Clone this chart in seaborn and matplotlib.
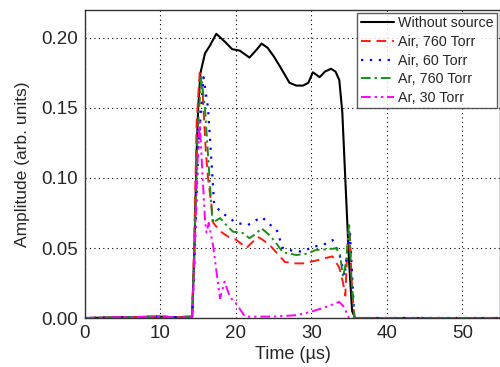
import matplotlib
matplotlib.use("Agg")
import matplotlib.pyplot as plt
import seaborn as sns
import numpy as np

# ---- data ----
labels = ["Without source", "Air, 760 Torr", "Air, 60 Torr", "Ar, 760 Torr", "Ar, 30 Torr"]

t_ws = [0, 10, 12, 14.2, 14.5, 14.8, 15.0, 15.3, 15.9, 16.5, 17.4, 18.0, 18.6, 19.5, 20.5, 21.8,
        22.8, 23.4, 24.2, 25.0, 25.8, 27.1, 28.0, 28.9, 29.6, 30.2, 31.1, 31.8, 32.6, 33.2, 33.7,
        34.1, 34.5, 35.0, 35.4, 35.8, 40, 50, 55]
v_ws = [0, 0.001, 0.0005, 0.001, 0.05, 0.12, 0.15, 0.175, 0.189, 0.194, 0.203, 0.200, 0.197, 0.192,
        0.191, 0.186, 0.192, 0.196, 0.193, 0.187, 0.180, 0.168, 0.166, 0.166, 0.168, 0.1755, 0.172,
        0.176, 0.178, 0.176, 0.170, 0.147, 0.099, 0.040, 0.005, 0, 0, 0, 0]

t_air760 = [0, 10, 12, 14.2, 14.5, 14.8, 15.2, 15.6, 16.0, 16.3, 16.75, 17.0, 17.9, 19.0, 20.0, 21.4,
            22.9, 23.5, 24.5, 25.5, 26.5, 28.0, 28.9, 30.6, 32.0, 32.8, 33.7, 34.2, 34.5, 34.8, 35.1,
            35.4, 35.7, 40, 50, 55]
v_air760 = [0, 0.001, 0.0005, 0.001, 0.06, 0.14, 0.175, 0.16, 0.12, 0.10, 0.081, 0.068, 0.062, 0.058,
            0.056, 0.050, 0.058, 0.056, 0.052, 0.046, 0.040, 0.039, 0.039, 0.041, 0.043, 0.044, 0.036,
            0.025, 0.016, 0.052, 0.060, 0.02, 0.0, 0, 0, 0]

t_air60 = [0, 10, 12, 14.2, 14.5, 15.0, 15.7, 16.3, 16.9, 17.1, 17.9, 19.0, 20.0, 21.6, 22.7, 23.5,
           24.2, 25.4, 26.2, 27.5, 28.9, 30.2, 31.5, 32.8, 33.7, 34.4, 34.7, 35.1, 35.4, 35.7, 40, 50, 55]
v_air60 = [0, 0.001, 0.0005, 0.001, 0.04, 0.12, 0.172, 0.15, 0.10, 0.082, 0.076, 0.072, 0.068, 0.0664,
           0.070, 0.072, 0.068, 0.063, 0.050, 0.048, 0.0474, 0.051, 0.052, 0.0557, 0.046, 0.030, 0.045,
           0.063, 0.030, 0.0, 0, 0, 0]

t_ar760 = [0, 10, 12, 14.2, 14.5, 14.9, 15.4, 15.9, 16.5, 16.9, 17.9, 18.8, 19.6, 20.9, 21.8, 22.6,
           23.4, 24.5, 25.4, 26.2, 28.0, 29.5, 30.6, 32.0, 33.3, 33.8, 34.2, 34.6, 35.0, 35.3, 35.7,
           40, 50, 55]
v_ar760 = [0, 0.001, 0.0005, 0.001, 0.05, 0.13, 0.172, 0.15, 0.10, 0.068, 0.0714, 0.066, 0.0617,
           0.0607, 0.057, 0.060, 0.064, 0.059, 0.053, 0.047, 0.045, 0.046, 0.0486, 0.049, 0.0498,
           0.045, 0.0295, 0.040, 0.068, 0.030, 0.0, 0, 0, 0]

t_ar30 = [0, 10, 12, 14.2, 14.5, 14.9, 15.2, 15.6, 15.9, 16.1, 16.4, 16.6, 17.0, 17.5, 17.9, 18.5,
          19.2, 20.0, 21.2, 22, 25, 28, 30, 32, 33.7, 34.3, 35.0, 40, 50, 55]
v_ar30 = [0, 0.001, 0.0005, 0.001, 0.04, 0.11, 0.14, 0.10, 0.07, 0.061, 0.068, 0.062, 0.051, 0.030,
          0.014, 0.026, 0.015, 0.0106, 0.001, 0.001, 0.001, 0.002, 0.0045, 0.008, 0.0115, 0.008,
          0.0, 0, 0, 0]

x_ticks = [0, 10, 20, 30, 40, 50]
y_ticks = [0.00, 0.05, 0.10, 0.15, 0.20]

# ---- plot ----
sns.set_style("white")
plt.rcParams['font.family'] = ['Liberation Sans', 'DejaVu Sans']

fig = plt.figure(figsize=(5.0, 3.67), dpi=100)
ax = fig.add_axes([0.17, 0.1335, 0.83, 0.8393])

series = [
    (t_ws, v_ws, "black", "-", 1.5),
    (t_air760, v_air760, "#ff1a1a", (0, (5, 3)), 1.4),
    (t_air60, v_air60, "#0000ff", (0, (1, 3)), 1.6),
    (t_ar760, v_ar760, "#1e8c1e", (0, (5, 2, 1.2, 2)), 1.4),
    (t_ar30, v_ar30, "#ff00ff", (0, (5, 2, 1.2, 2, 1.2, 2)), 1.4),
]
for (t, v, c, ls, lw), lab in zip(series, labels):
    sns.lineplot(x=t, y=v, color=c, linestyle=ls, linewidth=lw, label=lab, ax=ax,
                 sort=False, estimator=None)

ax.set_xlim(0, 55)
ax.set_ylim(0, 0.22)
ax.set_xticks(x_ticks)
ax.set_yticks(y_ticks)
ax.set_yticklabels([f"{y:.2f}" for y in y_ticks])
ax.tick_params(labelsize=13.5, length=0, pad=5)
ax.grid(True, linestyle=(0, (1, 3)), color="black", linewidth=0.8)
for s in ax.spines.values():
    s.set_color("#333333")
    s.set_linewidth(1.0)

ax.set_xlabel("Time (\u00b5s)", fontsize=13, labelpad=3)
ax.set_ylabel("Amplitude (arb. units)", fontsize=12.5, labelpad=8)

leg = ax.legend(loc="upper right", fontsize=10.3, frameon=True, fancybox=False,
                borderaxespad=0.2, handlelength=2.3, handletextpad=0.3,
                labelspacing=0.32, borderpad=0.25)
leg.get_frame().set_edgecolor("#333333")
leg.get_frame().set_linewidth(1.0)

fig.savefig("out.png", dpi=100)
